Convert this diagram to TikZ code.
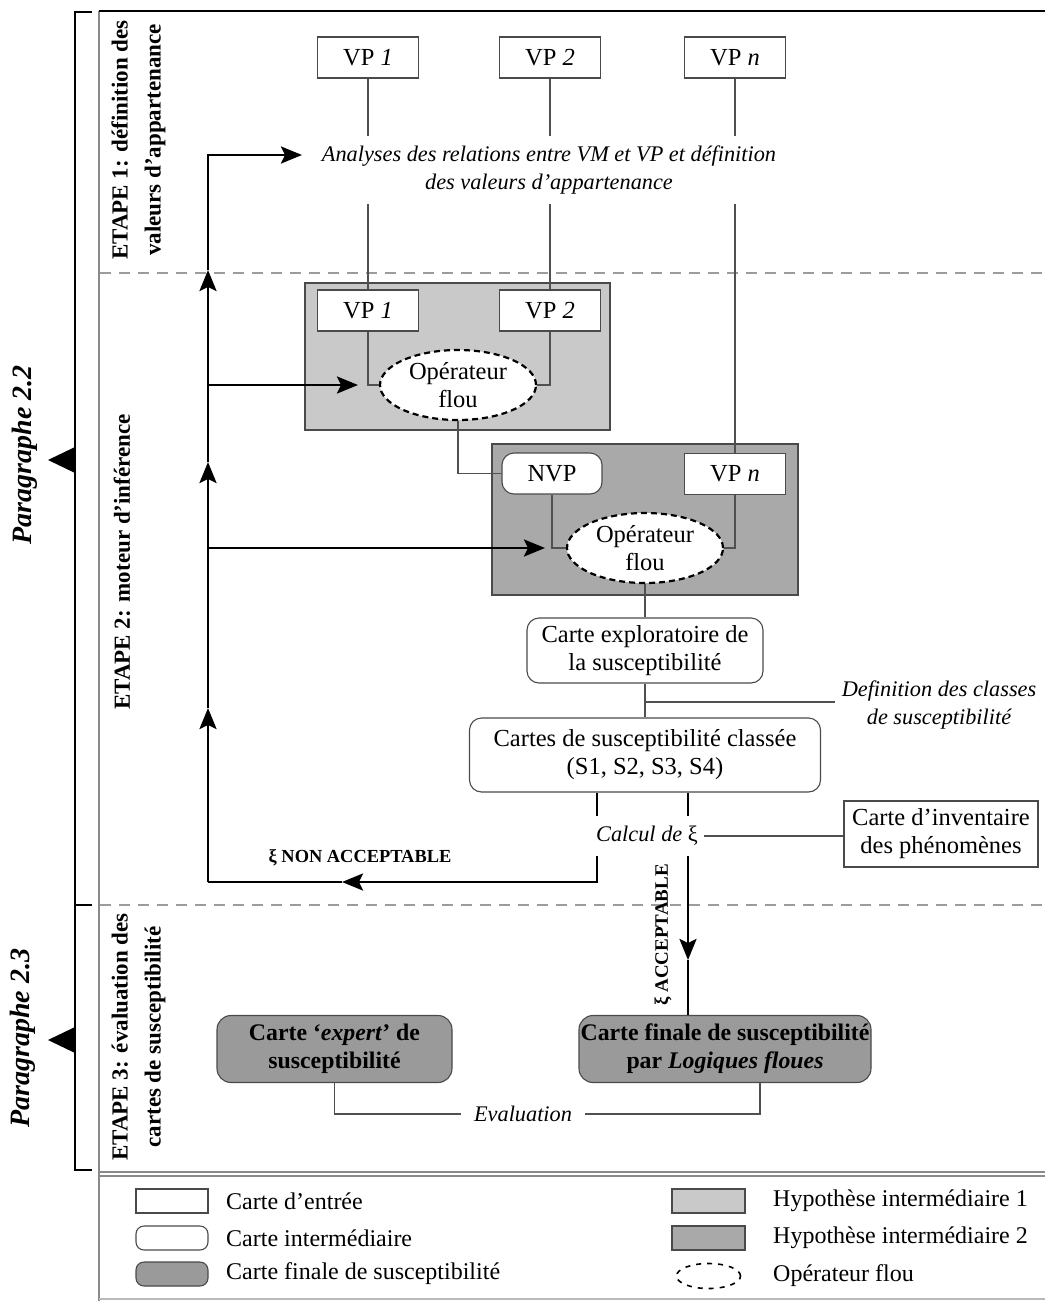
\documentclass[tikz,border=0pt]{standalone}
\usepackage{fontspec}
\setmainfont{Liberation Serif}
\usetikzlibrary{shapes.geometric,arrows.meta,calc}
\definecolor{boxc}{HTML}{4A4A4A}
\definecolor{linec}{HTML}{505050}
\definecolor{hypa}{HTML}{C9C9C9}
\definecolor{hypb}{HTML}{A9A9A9}
\definecolor{finc}{HTML}{9A9A9A}
\definecolor{framec}{HTML}{8A8A8A}
\definecolor{dashc}{HTML}{9C9C9C}
\begin{document}
\begin{tikzpicture}[x=1pt,y=-1pt,
  every node/.style={font=\fontsize{24.5}{28}\selectfont, inner sep=0pt},
  vpbox/.style={draw=boxc, fill=white, line width=1.1pt, minimum width=101pt, minimum height=41pt},
  interbox/.style={draw=boxc, fill=white, line width=1.1pt, rounded corners=12pt, align=center},
  finalbox/.style={draw=boxc, fill=finc, line width=1.1pt, rounded corners=14pt, align=center,
     minimum height=67pt, font=\fontsize{23.8}{28}\selectfont\bfseries},
  hypbox/.style={draw=boxc, line width=1.1pt},
  opnode/.style={ellipse, draw=black, dash pattern=on 6pt off 4pt, line width=2.2pt, fill=white,
     minimum width=156pt, minimum height=70pt, align=center},
  anno/.style={align=center, font=\fontsize{22.3}{28}\selectfont\itshape},
  conn/.style={draw=linec, line width=1.1pt},
  thk/.style={draw=black, line width=2.6pt, >={Stealth[length=21pt,width=17pt,inset=4pt]}},
  etape/.style={rotate=90, align=center, font=\fontsize{23}{33}\selectfont\bfseries},
  para/.style={rotate=90, font=\fontsize{28}{32}\selectfont\bfseries\itshape},
  sep/.style={draw=dashc, line width=1.2pt, dash pattern=on 11pt off 8pt},
  legtxt/.style={anchor=west, font=\fontsize{24}{28}\selectfont}
]
\useasboundingbox (0,0) rectangle (1045,1301);

% frame
\draw[framec, line width=1.2pt] (99,11) -- (99,1301);
\draw[black, line width=1.6pt] (99,11) -- (1045,11);
\draw[framec, line width=1.2pt] (99,1172) -- (1045,1172);
\draw[framec, line width=1.2pt] (99,1176) -- (1045,1176);
\draw[framec!60, line width=1.2pt] (99,1299) -- (1045,1299);
\draw[sep] (100,273) -- (1045,273);
\draw[sep] (100,905) -- (1045,905);

% bracket and paragraph labels
\draw[black, line width=1.6pt] (92,12) -- (75,12) -- (75,1170) -- (92,1170);
\draw[black, line width=1.6pt] (75,905) -- (92,905);
\fill (48,460) -- (75,447) -- (75,473) -- cycle;
\fill (48,1040) -- (75,1027) -- (75,1053) -- cycle;
\node[para] (p22) at (25,455) {Paragraphe 2.2};
\node[para] (p23) at (23,1038) {Paragraphe 2.3};

% stage labels
\node[etape] (e1) at (138.5,140) {ETAPE 1: définition des\\valeurs d’appartenance};
\node[etape] (e2) at (122,562) {ETAPE 2: moteur d’inférence};
\node[etape] (e3) at (138.5,1037) {ETAPE 3: évaluation des\\cartes de susceptibilité};

% hypothesis boxes
\node[hypbox, fill=hypa, minimum width=305pt, minimum height=147pt] (hyp1) at (457.5,356.5) {};
\node[hypbox, fill=hypb, minimum width=306pt, minimum height=151pt] (hyp2) at (645,519.5) {};

% top VP
\node[vpbox] (vp1t) at (368,57.5) {VP \textit{1}};
\node[vpbox] (vp2t) at (550,57.5) {VP \textit{2}};
\node[vpbox] (vpnt) at (735,57.5) {VP \textit{n}};
\node[anno, minimum height=68pt] (ana) at (549,170) {Analyses des relations entre VM et VP et définition\\des valeurs d’appartenance};

% stage 2
\node[vpbox] (vp1b) at (368,310.5) {VP \textit{1}};
\node[vpbox] (vp2b) at (550,310.5) {VP \textit{2}};
\node[opnode] (op1) at (458,385) {Opérateur\\flou};
\node[interbox, minimum width=100pt, minimum height=41pt] (nvp) at (552,473.5) {NVP};
\node[vpbox] (vpn2) at (735,474) {VP \textit{n}};
\node[opnode] (op2) at (645,548) {Opérateur\\flou};
\node[interbox, minimum width=236pt, minimum height=65pt] (expl) at (645,650.5) {Carte exploratoire de\\la susceptibilité};
\node[interbox, minimum width=351pt, minimum height=74pt] (cls) at (645,755) {Cartes de susceptibilité classée\\(S1, S2, S3, S4)};
\node[anno, inner xsep=7pt] (defn) at (939,705) {Definition des classes\\de susceptibilité};
\node[anno, minimum height=40pt, inner xsep=6pt] (calc) at (647,836) {Calcul de \textup{ξ}};
\node[draw=boxc, fill=white, line width=1.1pt, align=center, minimum width=194pt, minimum height=66pt] (inv) at (941,834) {Carte d’inventaire\\des phénomènes};
\node[font=\fontsize{18.4}{20}\selectfont\bfseries] (nonacc) at (360,858) {ξ NON ACCEPTABLE};
\node[rotate=90, font=\fontsize{19}{20}\selectfont\bfseries] (acc) at (663,935) {ξ ACCEPTABLE};

% stage 3
\node[finalbox, minimum width=235pt] (expert) at (334.5,1049) {Carte ‘\textit{expert}’ de\\susceptibilité};
\node[finalbox, minimum width=292pt] (finale) at (725,1049) {Carte finale de susceptibilité\\par \textit{Logiques floues}};
\node[anno, inner xsep=13pt, minimum height=20pt] (eval) at (523,1114) {Evaluation};

% thin connectors
\draw[conn] (vp1t.south) -- (vp1t.south |- ana.north);
\draw[conn] (vp2t.south) -- (vp2t.south |- ana.north);
\draw[conn] (vpnt.south) -- (vpnt.south |- ana.north);
\draw[conn] (vp1t.south |- ana.south) -- (vp1b.north);
\draw[conn] (vp2t.south |- ana.south) -- (vp2b.north);
\draw[conn] (vpnt.south |- ana.south) -- (vpn2.north);
\draw[conn] (vp1b.south) |- (op1.west);
\draw[conn] (vp2b.south) |- (op1.east);
\draw[conn] (op1.south) |- (nvp.west);
\draw[conn] (nvp.south) |- (op2.west);
\draw[conn] (vpn2.south) |- (op2.east);
\draw[conn] (op2.south) -- (expl.north);
\draw[conn] (expl.south) -- (cls.north);
\coordinate (defj) at (645,702);
\draw[conn] (defj) -- (defj -| defn.west);
\draw[conn] (calc.east) -- (calc.east -| inv.west);
\coordinate (fjr) at ($(finale.south)+(35,0)$);
\draw[conn] (expert.south) |- (eval.west);
\draw[conn] (eval.east) -| (fjr);

% thick loop
\coordinate (lb) at (208,882);
\coordinate (a3) at (208,708);
\coordinate (a2) at (208,462);
\coordinate (a1) at (208,270);
\coordinate (atip) at (302,155);
\coordinate (h1) at (208,385);
\coordinate (h1t) at (358,385);
\coordinate (h2) at (208,548);
\coordinate (h2t) at (545,548);
\coordinate (lx) at (597,0);
\coordinate (rx) at (688,0);
\coordinate (nat) at (342,882);
\coordinate (atp) at (688,960);
\draw[thk,->] (lb) -- (a3);
\draw[thk,->] (a3) -- (a2);
\draw[thk,->] (a2) -- (a1);
\draw[thk,->] (a1) |- (atip);
\draw[thk,->] (h1) -- (h1t);
\draw[thk,->] (h2) -- (h2t);
\draw[thk] (cls.south -| lx) -- (calc.north -| lx);
\draw[thk,->] (calc.south -| lx) |- (nat);
\draw[thk] (nat) -- (lb);
\draw[thk] (cls.south -| rx) -- (calc.north -| rx);
\draw[thk,->] (calc.south -| rx) -- (atp);
\draw[thk] (atp) -- (finale.north -| rx);

% legend
\node[draw=boxc, fill=white, line width=1.1pt, minimum width=72pt, minimum height=24pt] (l1) at (172,1201) {};
\node[draw=boxc, fill=white, line width=1.1pt, rounded corners=8pt, minimum width=72pt, minimum height=24pt] (l2) at (172,1238) {};
\node[draw=boxc, fill=finc, line width=1.1pt, rounded corners=8pt, minimum width=72pt, minimum height=24pt] (l3) at (172,1274) {};
\node[legtxt] (t1) at (226,1201) {Carte d’entrée};
\node[legtxt] (t2) at (226,1238) {Carte intermédiaire};
\node[legtxt] (t3) at (226,1274) {Carte finale de susceptibilité};
\node[draw=boxc, fill=hypa, line width=1.1pt, minimum width=73pt, minimum height=24pt] (r1) at (708.5,1201) {};
\node[draw=boxc, fill=hypb, line width=1.1pt, minimum width=73pt, minimum height=24pt] (r2) at (708.5,1238) {};
\node[ellipse, draw=black, line width=1.6pt, dash pattern=on 5pt off 6pt, minimum width=64pt, minimum height=25pt] (r3) at (708.5,1276) {};
\node[legtxt] (u1) at (773,1201) {Hypothèse intermédiaire 1};
\node[legtxt] (u2) at (773,1238) {Hypothèse intermédiaire 2};
\node[legtxt] (u3) at (773,1276) {Opérateur flou};
\end{tikzpicture}
\end{document}
